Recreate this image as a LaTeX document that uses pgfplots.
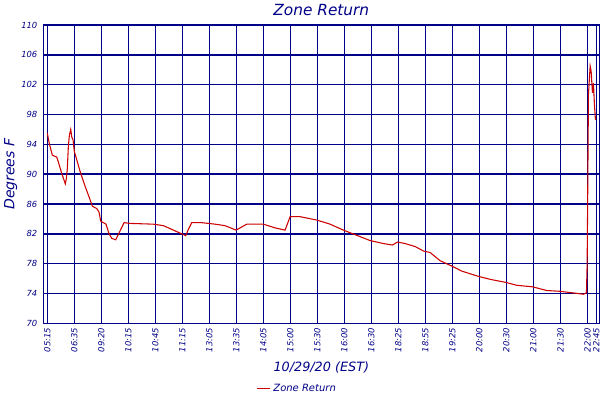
\documentclass[border=0pt]{standalone}
\usepackage{pgfplots}
\pgfplotsset{compat=1.18}
\usepackage{fontspec}
\setmainfont{DejaVu Sans}
\definecolor{navy}{RGB}{0,0,136}
\definecolor{zonered}{RGB}{204,0,0}

% zone return temperature, x = sample position (one unit per labelled tick)
\pgfplotstableread{
x y
0.000 95.5
0.074 94.1
0.185 92.55
0.348 92.3
0.407 91.65
0.533 90.1
0.619 89.2
0.667 88.7
0.704 89.4
0.741 90.8
0.778 93.7
0.815 95.2
0.867 96.0
0.904 95.0
0.952 94.6
1.000 93.05
1.089 91.95
1.211 90.4
1.396 88.4
1.556 86.85
1.667 85.7
1.830 85.4
1.915 84.9
1.978 83.7
2.174 83.3
2.285 82.0
2.385 81.4
2.533 81.2
2.693 82.4
2.841 83.5
3.063 83.4
3.926 83.3
4.296 83.1
4.607 82.6
4.978 82.0
5.126 81.75
5.222 82.6
5.348 83.5
5.719 83.5
6.211 83.3
6.581 83.1
6.989 82.5
7.385 83.3
8.000 83.3
8.433 82.8
8.804 82.5
8.989 84.3
9.359 84.3
9.978 83.85
10.470 83.3
10.963 82.5
11.459 81.8
11.952 81.1
12.444 80.7
12.778 80.5
12.963 80.9
13.248 80.7
13.619 80.3
13.926 79.7
14.174 79.5
14.544 78.4
14.963 77.7
15.348 77.0
15.963 76.3
16.396 75.9
16.963 75.5
17.385 75.1
17.963 74.9
18.496 74.4
18.963 74.3
19.544 74.05
19.852 73.9
19.963 74.1
19.989 78.0
20.007 86.0
20.037 100.7
20.100 104.5
20.137 103.8
20.185 100.9
20.222 102.2
20.259 99.3
20.296 97.3
}\zonedata

\begin{document}
\begin{tikzpicture}
\begin{axis}[
    at={(0,0)}, anchor=south west,
    scale only axis,
    width=417bp, height=223.7bp,
    xmin=-0.148, xmax=20.44,
    ymin=70, ymax=110,
    xtick={0,1,...,20,20.33},
    xticklabels={05:15,06:35,09:20,10:15,10:45,11:15,13:05,13:35,14:05,15:00,15:30,16:00,16:30,18:25,18:55,19:25,20:00,20:30,21:00,21:30,22:00,22:45},
    ytick={70,74,...,110},
    /pgf/number format/assume math mode=true,
    tick label style={font=\fontsize{6.3bp}{7bp}\selectfont\itshape, text=navy},
    xticklabel style={rotate=90, anchor=east},
    yticklabel style={xshift=-1bp},
    major tick length=0pt,
    grid=major,
    major grid style={navy, line width=1.1bp},
    axis line style={navy, line width=1.1bp},
    clip=false,
    title={Zone Return},
    title style={at={(rel axis cs:0.5,1)}, anchor=base, yshift=1bp,
        font=\fontsize{11.5bp}{13bp}\selectfont\itshape, text=navy},
    xlabel={10/29/20 (EST)},
    xlabel style={at={(rel axis cs:0.5,0)}, anchor=base, yshift=-36.3bp,
        font=\fontsize{9.6bp}{11bp}\selectfont\itshape, text=navy},
    legend style={draw=none, fill=none, at={(rel axis cs:0.457,-0.22)}, anchor=center,
        font=\fontsize{7.5bp}{8bp}\selectfont\itshape, text=navy},
    legend image code/.code={\draw[#1] (0bp,0bp) -- (10bp,0bp);},
]
\addplot[zonered, line width=0.8bp] table[x=x, y=y] {\zonedata};
\addlegendentry{Zone Return}
\node[rotate=90, anchor=base, font=\fontsize{10.5bp}{12bp}\selectfont\itshape, text=navy]
    at (axis cs:-1.22,90) {Degrees F};
\end{axis}
\pgfresetboundingbox
\path[use as bounding box] (-32.5bp,-57.5bp) rectangle (417.5bp,242.5bp);
\end{tikzpicture}
\end{document}
